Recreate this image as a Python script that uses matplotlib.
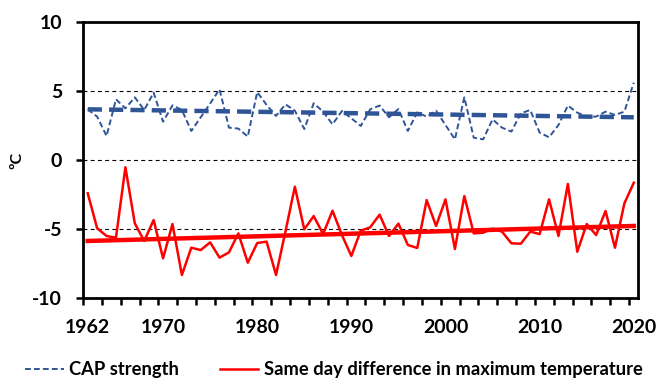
import matplotlib
matplotlib.use("Agg")
import matplotlib.pyplot as plt
from matplotlib.lines import Line2D
import numpy as np

plt.rcParams['font.family'] = ['Lato', 'DejaVu Sans']
plt.rcParams['font.weight'] = 'bold'
plt.rcParams['axes.unicode_minus'] = False

years = np.arange(1962, 2021)

# CAP strength (ºC)
cap_strength = [
    3.68, 3.15, 1.74, 4.41, 3.75, 4.55, 3.63, 4.89, 2.78, 3.97,
    3.63, 2.11, 3.10, 4.10, 5.13, 2.35, 2.28, 1.70, 4.93, 4.00,
    3.20, 4.04, 3.58, 2.25, 4.12, 3.51, 2.59, 3.56, 3.03, 2.47,
    3.68, 3.95, 3.10, 3.70, 2.11, 3.46, 3.15, 3.58, 2.54, 1.50,
    4.55, 1.62, 1.50, 2.95, 2.35, 2.06, 3.39, 3.63, 1.99, 1.65,
    2.54, 3.95, 3.44, 3.15, 3.15, 3.51, 3.27, 3.51, 5.62,
]

# same day difference in maximum temperature (ºC)
tmax_diff = [
    -2.42, -4.96, -5.52, -5.64, -0.53, -4.60, -5.88, -4.36, -7.14, -4.65,
    -8.35, -6.37, -6.54, -5.98, -7.09, -6.71, -5.33, -7.46, -6.03, -5.93,
    -8.35, -5.20, -1.94, -5.04, -4.07, -5.38, -3.68, -5.45, -6.97, -5.13,
    -4.89, -3.97, -5.52, -4.62, -6.17, -6.39, -2.91, -4.79, -2.86, -6.46,
    -2.62, -5.33, -5.28, -4.99, -5.20, -6.05, -6.08, -5.20, -5.38, -2.86,
    -5.52, -1.74, -6.66, -4.65, -5.45, -3.70, -6.37, -3.15, -1.65,
]

# linear trend values at the first and last year
trend_years = [1962, 2020]
cap_trend = [3.68, 3.10]
diff_trend = [-5.88, -4.79]

label_years = [1962, 1970, 1980, 1990, 2000, 2010, 2020]
blue = '#2F5597'
red = '#FF0000'

fig = plt.figure(figsize=(6.6, 3.79), dpi=100)
ax = fig.add_axes([0.1258, 0.2145, 0.8409, 0.7267])

# reference lines at -5, 0, 5
for yv in (-5, 0, 5):
    ax.axhline(yv, color='black', lw=0.8, ls=(0, (3.5, 3)), zorder=1)

ax.plot(years, cap_strength, color=blue, lw=1.4, ls=(0, (3, 1.6)), zorder=3)
ax.plot(years, tmax_diff, color=red, lw=1.8, zorder=3)

ax.plot(trend_years, cap_trend, color=blue, lw=3.2, ls=(0, (3.2, 1.6)), zorder=4)
ax.plot(trend_years, diff_trend, color=red, lw=3.2, zorder=4)

ax.set_xlim(1961.5, 2020.45)
ax.set_ylim(-10, 10)
ax.set_yticks([-10, -5, 0, 5, 10])
ax.set_xticks(label_years)
ax.set_xticks(np.arange(1961.5, 2020, 2), minor=True)
ax.tick_params(axis='x', which='major', length=0, pad=15, labelsize=14)
ax.tick_params(axis='x', which='minor', length=5, width=1.8, direction='out')
ax.tick_params(axis='y', length=5, width=1.8, direction='out', labelsize=14, pad=10)
for lbl in ax.get_xticklabels() + ax.get_yticklabels():
    lbl.set_fontweight('bold')

for side in ('left', 'bottom', 'right', 'top'):
    ax.spines[side].set_linewidth(2)
    ax.spines[side].set_color('black')

ax.set_ylabel('ºC', fontsize=11.5, fontweight='bold', labelpad=6)

handles = [
    Line2D([], [], color=blue, lw=1.4, ls=(0, (3, 1.6))),
    Line2D([], [], color=red, lw=1.8),
]
fig.legend(handles, ['CAP strength', 'Same day difference in maximum temperature'],
           loc='center', bbox_to_anchor=(0.506, 0.025), ncol=2, frameon=False,
           prop={'size': 13.2, 'weight': 'bold'}, handlelength=2.1,
           handletextpad=0.3, columnspacing=2.2)

fig.savefig('out.png', dpi=100)
